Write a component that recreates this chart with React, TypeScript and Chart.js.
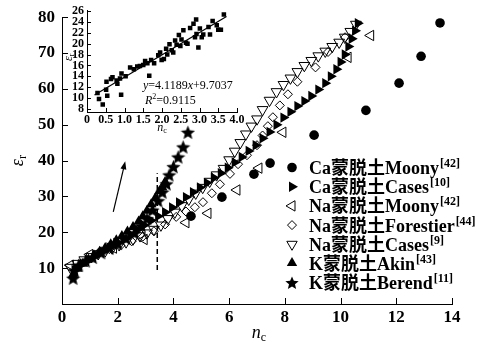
import React, { useEffect, useRef } from 'react';
import { Chart, registerables } from 'chart.js';

Chart.register(...registerables);

const SERIF = '"Liberation Serif", "Times New Roman", "Noto Sans CJK SC", serif';

// ---------------- main chart data ----------------
const X_TICKS = [0, 2, 4, 6, 8, 10, 12, 14];
const Y_TICKS = [0, 10, 20, 30, 40, 50, 60, 70, 80];

const caMoonyX = [4.63, 5.74, 6.89, 7.47, 9.05, 10.91, 12.10, 12.89, 13.57];
const caMoonyY = [24.5, 29.8, 36.2, 39.3, 47.1, 54.0, 61.6, 69.1, 78.4];

const caCasesX = [0.45, 0.7, 0.95, 1.2, 1.45, 1.7, 1.95, 2.2, 2.45, 2.7, 2.95, 3.2, 3.45, 3.7, 3.95, 4.2, 4.45, 4.7, 4.95, 5.2, 5.45, 5.7, 5.95, 6.2, 6.45, 6.7, 6.95, 7.2, 7.45, 7.7, 7.95, 8.2, 8.45, 8.7, 8.95, 9.2, 9.45, 9.65, 9.85, 10.0, 10.15, 10.28, 10.4, 10.52, 10.62];
const caCasesY = [9.5, 11, 12.3, 13.5, 14.6, 15.8, 17, 18.2, 19.4, 20.7, 22, 23.3, 24.5, 25.6, 26.9, 28.3, 29.8, 31.2, 32.5, 33.8, 35.2, 36.5, 38, 39.5, 41, 42.7, 44.3, 46.2, 48, 50, 52, 53.6, 55.2, 56.6, 58, 59.8, 61.6, 63.5, 65.5, 67.5, 69.6, 71.8, 74, 76.2, 78.3];

const naMoonyX = [0.3, 1.0, 1.85, 2.95, 4.45, 5.24, 6.28, 7.07, 7.93, 10.27, 11.08];
const naMoonyY = [10.8, 13.8, 15.6, 18.0, 22.7, 25.3, 31.8, 37.9, 47.9, 68.8, 74.9];

const naForestierX = [1.3, 1.7, 2.1, 2.5, 2.9, 3.3, 3.7, 4.1, 4.45, 4.77, 5.06, 5.38, 5.67, 6.03, 6.32, 6.64, 7.0, 7.2, 7.39, 7.57, 7.82, 8.11, 8.45, 9.1, 9.55, 10.16];
const naForestierY = [14.2, 15.3, 16.3, 17.5, 18.8, 20.3, 22.2, 24.3, 25.8, 27, 28.4, 30.9, 33.4, 36.3, 39, 41.5, 44.3, 47, 49.6, 52.1, 55.4, 58.5, 62, 66, 70.3, 74.4];

const naCasesX = [0.3, 0.55, 0.8, 1.05, 1.3, 1.55, 1.8, 2.05, 2.3, 2.55, 2.8, 3.05, 3.3, 3.55, 3.8, 4.05, 4.3, 4.55, 4.8, 5.05, 5.3, 5.55, 5.8, 6.0, 6.2, 6.4, 6.6, 6.8, 7.0, 7.2, 7.45, 7.7, 7.95, 8.2, 8.45, 8.7, 8.95, 9.2, 9.45, 9.7, 9.95, 10.15, 10.35, 10.55];
const naCasesY = [10.2, 11.3, 12.3, 13.2, 14, 14.8, 15.6, 16.5, 17.3, 18.1, 19, 19.8, 20.8, 22, 23.8, 25.6, 27.4, 29.2, 30.9, 32.5, 34.2, 36, 37.8, 40.2, 42.6, 45, 47.4, 49.6, 51.6, 54.2, 56.8, 59.2, 61.2, 63, 64.8, 66.5, 67.9, 69.2, 70.5, 71.8, 73, 74.4, 76, 78];

const kAkinX = [0.4, 0.55, 0.75, 0.95, 1.15, 1.35, 1.55, 1.75, 1.95, 2.15, 2.35, 2.55, 2.75, 2.9, 3.05, 3.2, 3.35, 3.5, 3.6, 3.7];
const kAkinY = [8.2, 9.8, 11.2, 12.4, 13.5, 14.6, 15.6, 16.7, 17.8, 19, 20.2, 21.5, 23, 24.5, 26, 27.8, 29.6, 31.5, 32.5, 34];

const kBerendX = [0.4, 0.45, 0.6, 0.85, 1.1, 1.4, 1.7, 2.0, 2.3, 2.6, 2.85, 3.05, 3.25, 3.45, 3.6, 3.75, 3.85, 4.0, 4.17, 4.35, 4.52];
const kBerendY = [7.2, 9.3, 10.8, 12, 13, 14.3, 15.6, 16.9, 18.3, 19.8, 21.8, 23.8, 26.2, 28.8, 31.2, 33.5, 36, 38.3, 41, 43.8, 47.9];

const LEGEND_NAMES = ['Ca蒙脱土Moony', 'Ca蒙脱土Cases', 'Na蒙脱土Moony', 'Na蒙脱土Forestier', 'Na蒙脱土Cases', 'K蒙脱土Akin', 'K蒙脱土Berend'];
const LEGEND_REFS = ['[42]', '[10]', '[42]', '[44]', '[9]', '[43]', '[11]'];

// annotation values (data coordinates)
const DASH_X = 3.42;
const DASH_Y = [9.5, 36.5];
const ARROW_FROM = [1.84, 25.7];
const ARROW_TO = [2.27, 39.8];

// ---------------- inset data ----------------
const INSET_X_TICKS = [0, 0.5, 1.0, 1.5, 2.0, 2.5, 3.0, 3.5, 4.0];
const INSET_Y_TICKS = [8, 10, 12, 14, 16, 18, 20, 22, 24, 26];
const insetX = [0.28, 0.32, 0.42, 0.51, 0.54, 0.52, 0.64, 0.68, 0.79, 0.81, 0.88, 0.92, 0.91, 1.03, 1.15, 1.25, 1.34, 1.41, 1.50, 1.55, 1.61, 1.66, 1.71, 1.79, 1.90, 1.95, 1.99, 2.05, 2.11, 2.14, 2.20, 2.26, 2.30, 2.35, 2.39, 2.45, 2.49, 2.52, 2.57, 2.64, 2.68, 2.75, 2.84, 2.88, 2.91, 2.92, 2.97, 3.01, 3.06, 3.10, 3.24, 3.28, 3.35, 3.46, 3.50, 3.57, 3.65];
const insetY = [10.9, 9.8, 8.8, 11.5, 10.4, 13.0, 13.5, 13.8, 13.2, 12.6, 13.6, 14.5, 10.6, 14.0, 15.6, 15.3, 15.8, 15.9, 16.1, 16.8, 16.4, 14.1, 17.0, 16.4, 17.9, 18.4, 17.0, 17.2, 19.1, 18.0, 19.9, 18.8, 18.4, 20.6, 19.8, 21.6, 19.6, 20.8, 22.5, 20.2, 20.0, 22.9, 23.7, 21.2, 24.5, 21.8, 19.3, 22.8, 21.2, 21.7, 23.1, 21.7, 24.2, 23.4, 22.6, 22.6, 25.4];
const FIT_SLOPE = 4.1189;
const FIT_INTERCEPT = 9.7037;
const FIT_R2 = '0.9115';
const FIT_X = [0.2, 3.72];
const FIT_Y = [10.53, 25.03];

const pts = (xs: number[], ys: number[]) => xs.map((x, i) => ({ x, y: ys[i] }));

function starPath(g: CanvasRenderingContext2D, cx: number, cy: number, R: number, r: number) {
  g.beginPath();
  for (let i = 0; i < 10; i++) {
    const a = -Math.PI / 2 + (i * Math.PI) / 5;
    const rad = i % 2 === 0 ? R : r;
    const px = cx + rad * Math.cos(a);
    const py = cy + rad * Math.sin(a);
    if (i === 0) g.moveTo(px, py);
    else g.lineTo(px, py);
  }
  g.closePath();
}

function makeStar(size: number) {
  const c = document.createElement('canvas');
  c.width = size;
  c.height = size;
  const g = c.getContext('2d')!;
  starPath(g, size / 2, size / 2 + 0.7, size / 2, (size / 2) * 0.45);
  g.fillStyle = '#000';
  g.fill();
  return c;
}

function triPath(g: CanvasRenderingContext2D, x: number, y: number, r: number, rotDeg: number) {
  let rad = (rotDeg * Math.PI) / 180;
  g.beginPath();
  g.moveTo(x + Math.sin(rad) * r, y - Math.cos(rad) * r);
  rad += (2 * Math.PI) / 3;
  g.lineTo(x + Math.sin(rad) * r, y - Math.cos(rad) * r);
  rad += (2 * Math.PI) / 3;
  g.lineTo(x + Math.sin(rad) * r, y - Math.cos(rad) * r);
  g.closePath();
}

function drawLegendMarker(g: CanvasRenderingContext2D, i: number, x: number, y: number) {
  g.save();
  g.fillStyle = '#000';
  g.strokeStyle = '#000';
  g.lineWidth = 1;
  switch (i) {
    case 0:
      g.beginPath();
      g.arc(x, y, 4.8, 0, Math.PI * 2);
      g.fill();
      break;
    case 1:
      triPath(g, x, y, 6, 90);
      g.fill();
      break;
    case 2:
      triPath(g, x, y, 6, 270);
      g.stroke();
      break;
    case 3:
      g.beginPath();
      g.moveTo(x, y - 4.5);
      g.lineTo(x + 4.5, y);
      g.lineTo(x, y + 4.5);
      g.lineTo(x - 4.5, y);
      g.closePath();
      g.stroke();
      break;
    case 4:
      triPath(g, x, y, 6, 180);
      g.stroke();
      break;
    case 5:
      triPath(g, x, y - 0.5, 6, 0);
      g.fill();
      break;
    case 6:
      starPath(g, x, y + 0.7, 7, 7 * 0.45);
      g.fill();
      break;
  }
  g.restore();
}

type Part = { t: string; font: string; dy?: number };
function drawParts(g: CanvasRenderingContext2D, parts: Part[], x: number, y: number, align: 'left' | 'center' = 'left') {
  let total = 0;
  for (const p of parts) {
    g.font = p.font;
    total += g.measureText(p.t).width;
  }
  let cx = align === 'center' ? x - total / 2 : x;
  g.textAlign = 'left';
  g.textBaseline = 'alphabetic';
  for (const p of parts) {
    g.font = p.font;
    g.fillText(p.t, cx, y + (p.dy || 0));
    cx += g.measureText(p.t).width;
  }
}

const mainDecor = {
  id: 'mainDecor',
  afterDraw(chart: any) {
    const g: CanvasRenderingContext2D = chart.ctx;
    const xs = chart.scales.x;
    const ys = chart.scales.y;
    g.save();
    g.strokeStyle = '#000';
    g.fillStyle = '#000';
    g.lineWidth = 1;
    // inward ticks
    g.beginPath();
    for (const v of X_TICKS) {
      const px = Math.round(xs.getPixelForValue(v)) + 0.5;
      g.moveTo(px, ys.bottom);
      g.lineTo(px, ys.bottom - 6);
    }
    for (const v of Y_TICKS) {
      const py = Math.round(ys.getPixelForValue(v)) + 0.5;
      g.moveTo(xs.left, py);
      g.lineTo(xs.left + 6, py);
    }
    g.stroke();

    // dashed vertical line
    g.save();
    g.setLineDash([5, 3]);
    g.lineWidth = 1.5;
    g.beginPath();
    const dx = xs.getPixelForValue(DASH_X);
    g.moveTo(dx, ys.getPixelForValue(DASH_Y[0]));
    g.lineTo(dx, ys.getPixelForValue(DASH_Y[1]));
    g.stroke();
    g.restore();

    // arrow
    const ax0 = xs.getPixelForValue(ARROW_FROM[0]);
    const ay0 = ys.getPixelForValue(ARROW_FROM[1]);
    const ax1 = xs.getPixelForValue(ARROW_TO[0]);
    const ay1 = ys.getPixelForValue(ARROW_TO[1]);
    const ang = Math.atan2(ay1 - ay0, ax1 - ax0);
    const hl = 8;
    const hw = 3;
    g.lineWidth = 1.2;
    g.beginPath();
    g.moveTo(ax0, ay0);
    g.lineTo(ax1 - Math.cos(ang) * hl * 0.7, ay1 - Math.sin(ang) * hl * 0.7);
    g.stroke();
    g.beginPath();
    g.moveTo(ax1, ay1);
    g.lineTo(ax1 - Math.cos(ang) * hl - Math.sin(ang) * hw, ay1 - Math.sin(ang) * hl + Math.cos(ang) * hw);
    g.lineTo(ax1 - Math.cos(ang) * hl + Math.sin(ang) * hw, ay1 - Math.sin(ang) * hl - Math.cos(ang) * hw);
    g.closePath();
    g.fill();

    // axis titles
    drawParts(g, [
      { t: 'n', font: `italic 18px ${SERIF}` },
      { t: 'c', font: `12px ${SERIF}`, dy: 3 },
    ], (xs.left + xs.right) / 2 + 2, 338, 'center');

    g.save();
    g.translate(23, ys.getPixelForValue(40));
    g.rotate(-Math.PI / 2);
    drawParts(g, [
      { t: 'ε', font: `italic 18px ${SERIF}` },
      { t: 'r', font: `12px ${SERIF}`, dy: 3 },
    ], 0, 0, 'center');
    g.restore();

    // legend
    for (let i = 0; i < LEGEND_NAMES.length; i++) {
      const yc = 167.5 + i * 19.2;
      drawLegendMarker(g, i, 292, yc);
      g.font = `bold 18px ${SERIF}`;
      g.textAlign = 'left';
      g.textBaseline = 'alphabetic';
      const w = g.measureText(LEGEND_NAMES[i]).width;
      g.fillText(LEGEND_NAMES[i], 309, yc + 6.5);
      g.font = `bold 12px ${SERIF}`;
      g.fillText(LEGEND_REFS[i], 309 + w + 1, yc - 0.5);
    }
    g.restore();
  },
};

const insetDecor = {
  id: 'insetDecor',
  afterDraw(chart: any) {
    const g: CanvasRenderingContext2D = chart.ctx;
    const xs = chart.scales.x;
    const ys = chart.scales.y;
    g.save();
    g.strokeStyle = '#000';
    g.fillStyle = '#000';
    g.lineWidth = 1;
    g.beginPath();
    for (const v of INSET_X_TICKS) {
      const px = Math.round(xs.getPixelForValue(v)) + 0.5;
      g.moveTo(px, ys.bottom);
      g.lineTo(px, ys.bottom - 4);
    }
    for (const v of INSET_Y_TICKS) {
      const py = Math.round(ys.getPixelForValue(v)) + 0.5;
      g.moveTo(xs.left, py);
      g.lineTo(xs.left + 4, py);
    }
    g.stroke();

    drawParts(g, [
      { t: 'n', font: `italic 12px ${SERIF}` },
      { t: 'c', font: `8px ${SERIF}`, dy: 2 },
    ], xs.getPixelForValue(2.0), 131, 'center');

    g.save();
    g.translate(72, ys.getPixelForValue(17.5));
    g.rotate(-Math.PI / 2);
    drawParts(g, [
      { t: 'ε', font: `italic 12px ${SERIF}` },
      { t: 'r', font: `8px ${SERIF}`, dy: 2 },
    ], 0, 0, 'center');
    g.restore();

    drawParts(g, [
      { t: 'y', font: `italic 12px ${SERIF}` },
      { t: '=' + FIT_SLOPE.toFixed(4), font: `12px ${SERIF}` },
      { t: 'x', font: `italic 12px ${SERIF}` },
      { t: '+' + FIT_INTERCEPT.toFixed(4), font: `12px ${SERIF}` },
    ], 143, 89);
    drawParts(g, [
      { t: 'R', font: `italic 12px ${SERIF}` },
      { t: '2', font: `8px ${SERIF}`, dy: -5 },
      { t: '=' + FIT_R2, font: `12px ${SERIF}` },
    ], 145, 104);
    g.restore();
  },
};

export default function App() {
  const mainRef = useRef<HTMLCanvasElement>(null);
  const insetRef = useRef<HTMLCanvasElement>(null);

  useEffect(() => {
    document.body.style.margin = '0';
    const star = makeStar(15);
    const tickFont = { family: SERIF, size: 17, weight: 'bold' as const };
    const open = 'rgba(0,0,0,0)';

    const main = new Chart(mainRef.current!, {
      type: 'scatter',
      data: {
        datasets: [
          { label: LEGEND_NAMES[0], data: pts(caMoonyX, caMoonyY), pointStyle: 'circle', pointRadius: 4.8, pointBackgroundColor: '#000', pointBorderColor: '#000', pointBorderWidth: 0, order: 6 },
          { label: LEGEND_NAMES[1], data: pts(caCasesX, caCasesY), pointStyle: 'triangle', pointRotation: 90, pointRadius: 6, pointBackgroundColor: '#000', pointBorderColor: '#000', pointBorderWidth: 0, order: 3 },
          { label: LEGEND_NAMES[2], data: pts(naMoonyX, naMoonyY), pointStyle: 'triangle', pointRotation: 270, pointRadius: 6, pointBackgroundColor: open, pointBorderColor: '#000', pointBorderWidth: 1, order: 5 },
          { label: LEGEND_NAMES[3], data: pts(naForestierX, naForestierY), pointStyle: 'rectRot', pointRadius: 4.5, pointBackgroundColor: open, pointBorderColor: '#000', pointBorderWidth: 1, order: 4 },
          { label: LEGEND_NAMES[4], data: pts(naCasesX, naCasesY), pointStyle: 'triangle', pointRotation: 180, pointRadius: 6.2, pointBackgroundColor: open, pointBorderColor: '#000', pointBorderWidth: 1, order: 2 },
          { label: LEGEND_NAMES[5], data: pts(kAkinX, kAkinY), pointStyle: 'triangle', pointRadius: 6, pointBackgroundColor: '#000', pointBorderColor: '#000', pointBorderWidth: 0, order: 1 },
          { label: LEGEND_NAMES[6], data: pts(kBerendX, kBerendY), pointStyle: star as any, pointRadius: 7, order: 0 },
        ],
      },
      options: {
        responsive: false,
        animation: false,
        events: [],
        clip: false as any,
        layout: { padding: { left: 0, right: 34, top: 17, bottom: 0 } },
        plugins: { legend: { display: false }, tooltip: { enabled: false } },
        scales: {
          x: {
            type: 'linear',
            min: 0,
            max: 14,
            afterFit: (s: any) => { s.height = 40; },
            afterBuildTicks: (s: any) => { s.ticks = X_TICKS.map((v) => ({ value: v })); },
            ticks: { color: '#000', font: tickFont, padding: 3, maxRotation: 0 },
            grid: { display: false, drawTicks: false },
            border: { display: true, color: '#000', width: 1 },
          },
          y: {
            type: 'linear',
            min: 0,
            max: 80,
            afterFit: (s: any) => { s.width = 62; },
            afterBuildTicks: (s: any) => { s.ticks = Y_TICKS.map((v) => ({ value: v })); },
            ticks: { color: '#000', font: tickFont, padding: 7, callback: (v: any) => (v === 0 ? '' : String(v)) },
            grid: { display: false, drawTicks: false },
            border: { display: true, color: '#000', width: 1 },
          },
        },
      },
      plugins: [mainDecor],
    });

    const insetFont = { family: SERIF, size: 12, weight: 'bold' as const };
    const inset = new Chart(insetRef.current!, {
      type: 'scatter',
      data: {
        datasets: [
          { data: pts(insetX, insetY), pointStyle: 'rect', pointRadius: 3.2, pointBackgroundColor: '#000', pointBorderWidth: 0, order: 1 },
          { type: 'line', data: pts(FIT_X, FIT_Y), borderColor: '#000', borderWidth: 1.2, pointRadius: 0, showLine: true, fill: false, order: 0 } as any,
        ],
      },
      options: {
        responsive: false,
        animation: false,
        events: [],
        layout: { padding: { left: 62, right: 249, top: 8, bottom: 212 } },
        plugins: { legend: { display: false }, tooltip: { enabled: false } },
        scales: {
          x: {
            type: 'linear',
            min: 0,
            max: 4,
            afterFit: (s: any) => { s.height = 20; },
            afterBuildTicks: (s: any) => { s.ticks = INSET_X_TICKS.map((v) => ({ value: v })); },
            ticks: { color: '#000', font: insetFont, padding: 1, maxRotation: 0, autoSkip: false, callback: (v: any) => (v === 0 ? '0' : Number(v).toFixed(1)) },
            grid: { display: false, drawTicks: false },
            border: { display: true, color: '#000', width: 1 },
          },
          y: {
            type: 'linear',
            min: 7.4,
            max: 26.2,
            afterFit: (s: any) => { s.width = 25; },
            afterBuildTicks: (s: any) => { s.ticks = INSET_Y_TICKS.map((v) => ({ value: v })); },
            ticks: { color: '#000', font: insetFont, padding: 3, autoSkip: false },
            grid: { display: false, drawTicks: false },
            border: { display: true, color: '#000', width: 1 },
          },
        },
      },
      plugins: [insetDecor],
    });

    return () => {
      main.destroy();
      inset.destroy();
    };
  }, []);

  return (
    <div style={{ position: 'relative', width: 486, height: 344, background: '#fff' }}>
      <canvas ref={mainRef} width={486} height={344} style={{ position: 'absolute', left: 0, top: 0, width: 486, height: 344 }} />
      <canvas ref={insetRef} width={486} height={344} style={{ position: 'absolute', left: 0, top: 0, width: 486, height: 344 }} />
    </div>
  );
}
